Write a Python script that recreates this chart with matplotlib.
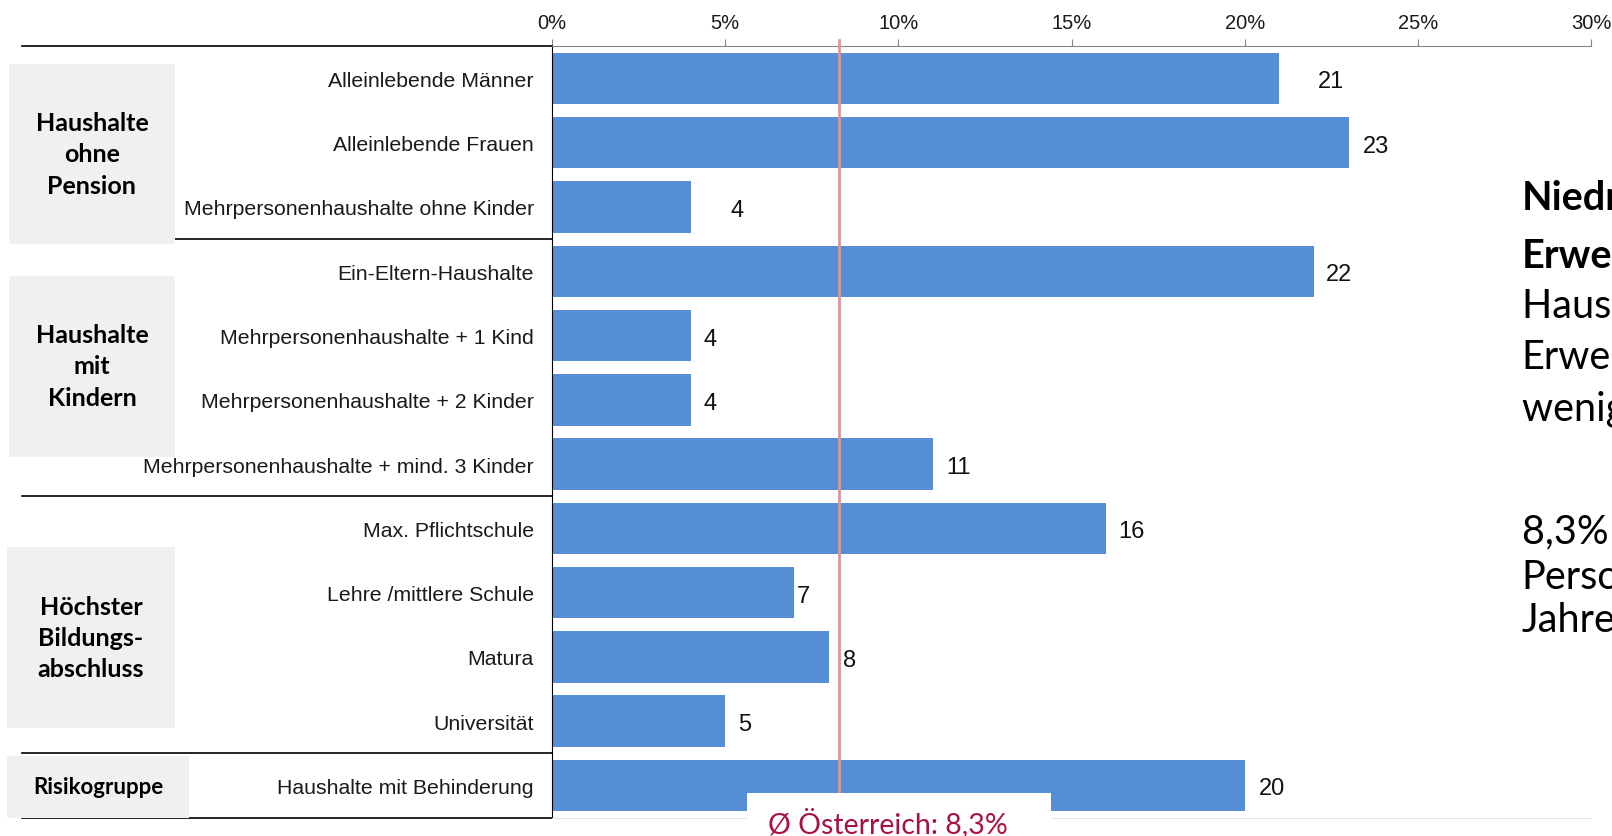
import matplotlib
matplotlib.use("Agg")
import matplotlib.pyplot as plt
from matplotlib.patches import Rectangle
from matplotlib.transforms import blended_transform_factory

# -----------------------------
# Data
# -----------------------------
categories = [
    "Alleinlebende Männer",
    "Alleinlebende Frauen",
    "Mehrpersonenhaushalte ohne Kinder",
    "Ein-Eltern-Haushalte",
    "Mehrpersonenhaushalte + 1 Kind",
    "Mehrpersonenhaushalte + 2 Kinder",
    "Mehrpersonenhaushalte + mind. 3 Kinder",
    "Max. Pflichtschule",
    "Lehre /mittlere Schule",
    "Matura",
    "Universität",
    "Haushalte mit Behinderung",
]
values = [21, 23, 4, 22, 4, 4, 11, 16, 7, 8, 5, 20]
avg_value = 8.3
avg_label = "Ø Österreich: 8,3%"

groups = ["Haushalte\nohne\nPension", "Haushalte\nmit\nKindern",
          "Höchster\nBildungs-\nabschluss", "Risikogruppe"]
group_breaks = [2.5, 6.5, 10.5]  # between rows

x_ticks = [0, 5, 10, 15, 20, 25, 30]

side_text = ["Niedrige", "Erwerbsintensität", "Haushalte mit", "Erwerbstätigen,",
             "weniger als 20%", "8,3% bzw.", "Personen", "Jahren"]

# label gap right of each bar (pixels) - Excel put them a bit unevenly
label_gap = [39, 14, 40, 12, 13, 13, 13, 12, 2, 14, 13, 14]

BAR = "#558ed5"
RED = "#a8123e"
W, H = 1612, 837

fig = plt.figure(figsize=(W / 100, H / 100), dpi=100)
ax = fig.add_axes([552 / W, 1 - 818.6 / H, (1591 - 552) / W, (818.6 - 47.3) / H])

ypos = list(range(len(categories)))
ax.barh(ypos, values, height=0.8, color=BAR, zorder=2)
ax.set_xlim(0, 30)
ax.set_ylim(len(categories) - 0.5, -0.5)

# top axis
ax.xaxis.tick_top()
ax.set_xticks(x_ticks)
ax.set_xticklabels([f"{t}%" for t in x_ticks], fontsize=14.5, family="Liberation Sans")
ax.tick_params(axis="x", direction="out", length=5, color="#868686", pad=5,
               labelcolor="#1a1a1a")
ax.set_yticks(ypos)
ax.set_yticklabels(categories, fontsize=15.3, family="Liberation Sans", color="#1a1a1a")
ax.tick_params(axis="y", length=0, pad=13)

ax.spines["right"].set_visible(False)
ax.spines["top"].set_color("#868686")
ax.spines["bottom"].set_color("#e4e4e4")
ax.spines["left"].set_color("black")

# value labels
for i, v in enumerate(values):
    ax.annotate(str(v), (v, i), xytext=(label_gap[i], -3), textcoords="offset pixels",
                ha="left", va="center", fontsize=17, family="Liberation Sans",
                color="#111111")

# average line
ax.plot([avg_value, avg_value], [-0.6, len(categories) - 0.5], color="#dc9898",
        lw=2, clip_on=False, zorder=3)

# group separator lines on the left
tr = blended_transform_factory(fig.transFigure, ax.transData)
for yb in [-0.5] + group_breaks + [len(categories) - 0.5]:
    ax.plot([22 / W, 552 / W], [yb, yb], color="black", lw=1.2,
            transform=tr, clip_on=False)

# gray group boxes
boxes = [(9, 64.8, 174.8, 244.7), (9, 276.5, 174.8, 457.5),
         (7, 548, 174.8, 729), (7, 756.6, 189, 818.6)]
for (x0, y0, x1, y1), g in zip(boxes, groups):
    fig.add_artist(Rectangle((x0 / W, 1 - y1 / H), (x1 - x0) / W, (y1 - y0) / H,
                             transform=fig.transFigure, facecolor="#f0f0f0",
                             edgecolor="none"))
    fs = 16 if g == "Risikogruppe" else 18
    fig.text((x0 + x1) / 2 / W, 1 - (y0 + y1) / 2 / H, g, ha="center", va="center",
             fontsize=fs, fontweight="bold", family="Lato", linespacing=1.44,
             color="black")

# white box under the average label
fig.add_artist(Rectangle((747 / W, 0), 304 / W, 43.4 / H, transform=fig.transFigure,
                         facecolor="white", edgecolor="none"))
fig.text(768 / W, 1 - 823 / H, avg_label, ha="left", va="center", fontsize=20.5,
         family="Lato", color=RED)

# text on the right (cut off by the slide crop)
side_y = [198.5, 257, 306.3, 357.7, 409.1, 531.5, 577.7, 620.9]
for i, (t, yy) in enumerate(zip(side_text, side_y)):
    fig.text(1521.5 / W, 1 - yy / H, t, ha="left", va="center", fontsize=28.5,
             family="Lato", fontweight="bold" if i < 2 else "normal", color="black")

fig.savefig("out.png", dpi=100)
